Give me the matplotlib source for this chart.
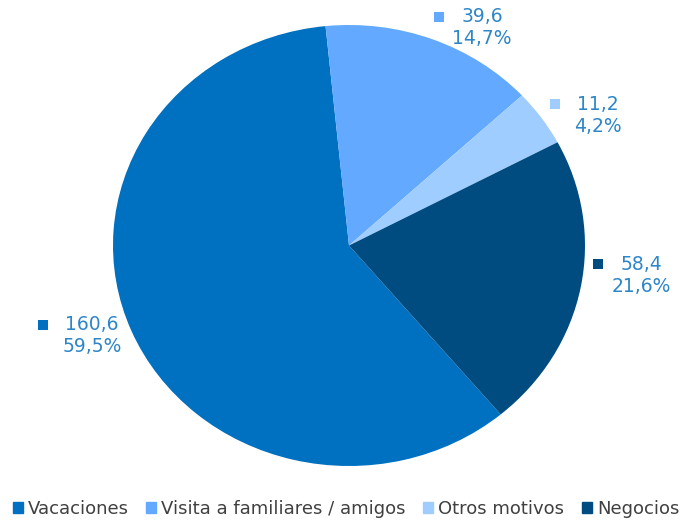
import matplotlib.pyplot as plt
from matplotlib.patches import Patch, Rectangle

motivos = ['Vacaciones', 'Visita a familiares / amigos', 'Otros motivos', 'Negocios']
valores = [160.6, 39.6, 11.2, 58.4]
colores = ['#0070C0', '#62A9FF', '#A0CDFF', '#004C80']

# centro de cada etiqueta (px, desde arriba)
pos_etiquetas = [(92, 325), (482, 17), (598, 104), (641, 264)]

W, H = 683, 520
fig = plt.figure(figsize=(W / 100, H / 100), dpi=100)
ax = fig.add_axes([113 / W, 1 - 466 / H, 472 / W, 441 / H])
ax.pie(valores, colors=colores, startangle=-50, counterclock=False,
       wedgeprops=dict(linewidth=0))
ax.set_aspect('auto')
ax.set_xlim(-1, 1)
ax.set_ylim(-1, 1)

total = sum(valores)
color_txt = '#2E86C8'
renderer = fig.canvas.get_renderer()
for v, c, (px, py) in zip(valores, colores, pos_etiquetas):
    t1 = fig.text(px / W, 1 - py / H, f'{v:.1f}'.replace('.', ','),
                  ha='center', va='center', fontsize=13.5, color=color_txt)
    fig.text(px / W, 1 - (py + 22) / H, f'{v / total * 100:.1f}%'.replace('.', ','),
             ha='center', va='center', fontsize=13.5, color=color_txt)
    bb = t1.get_window_extent(renderer)
    mx = bb.x0 - 22
    my = (bb.y0 + bb.y1) / 2
    fig.add_artist(Rectangle(((mx - 5) / W, (my - 5) / H), 10 / W, 10 / H,
                             transform=fig.transFigure, color=c, lw=0))

handles = [Patch(color=c) for c in colores]
fig.legend(handles, motivos, loc='center', bbox_to_anchor=(346 / W, 1 - 509 / H),
           ncol=4, frameon=False, fontsize=13, handlelength=0.55,
           handleheight=0.55, handletextpad=0.3, columnspacing=0.95,
           labelcolor='#404040')

fig.savefig('out.png', dpi=100)
